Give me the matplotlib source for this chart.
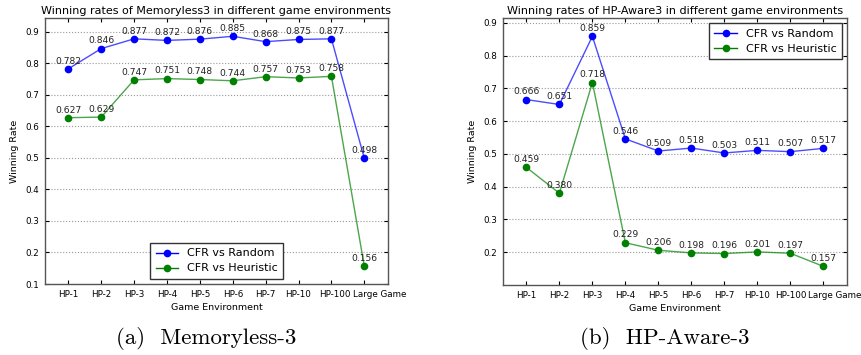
import numpy as np
import matplotlib.pyplot as plt
from matplotlib.transforms import ScaledTranslation

envs = ["HP-1", "HP-2", "HP-3", "HP-4", "HP-5", "HP-6", "HP-7", "HP-10", "HP-100", "Large Game"]

mem_random = [0.782, 0.846, 0.877, 0.872, 0.876, 0.885, 0.868, 0.875, 0.877, 0.498]
mem_heuristic = [0.627, 0.629, 0.747, 0.751, 0.748, 0.744, 0.757, 0.753, 0.758, 0.156]

hp_random = [0.666, 0.651, 0.859, 0.546, 0.509, 0.518, 0.503, 0.511, 0.507, 0.517]
hp_heuristic = [0.459, 0.380, 0.718, 0.229, 0.206, 0.198, 0.196, 0.201, 0.197, 0.157]

plt.rcParams['font.family'] = 'DejaVu Sans'
plt.rcParams['xtick.direction'] = 'in'
plt.rcParams['ytick.direction'] = 'in'

fig = plt.figure(figsize=(8.62, 3.55), dpi=100)
ax1 = fig.add_axes([45 / 862, 1 - 284 / 355, 343 / 862, 266 / 355])
ax2 = fig.add_axes([503 / 862, 1 - 285 / 355, 344 / 862, 267 / 355])

x = np.arange(len(envs))


def draw(ax, rand, heur, title, ylim, yticks, legend_loc, legend_anchor, label_shift):
    ax.plot(x, rand, '-', color='b', lw=1, alpha=0.7, zorder=2)
    ax.plot(x, heur, '-', color='g', lw=1, alpha=0.7, zorder=2)
    ax.plot(x, rand, 'o', color='b', ms=4.5, mec='b', zorder=3)
    ax.plot(x, heur, 'o', color='g', ms=4.5, mec='g', zorder=3)
    # legend proxies
    ax.plot([], [], '-o', color='b', ms=4.5, lw=1, label="CFR vs Random")
    ax.plot([], [], '-o', color='g', ms=4.5, lw=1, label="CFR vs Heuristic")
    for xi, v in zip(x, rand):
        ax.text(xi, v + 0.01, "%.3f" % v, ha='center', va='bottom', fontsize=6.6, color='#222222')
    for xi, v in zip(x, heur):
        ax.text(xi, v + 0.01, "%.3f" % v, ha='center', va='bottom', fontsize=6.6, color='#222222')
    ax.set_xlim(-0.71, 9.72)
    ax.set_ylim(*ylim)
    ax.set_yticks(yticks)
    ax.set_yticklabels(["%.1f" % t for t in yticks])
    ax.set_xticks(x)
    ax.set_xticklabels(envs)
    ax.tick_params(labelsize=6.3, length=3, top=True, right=True, pad=4)
    # last labels sit a bit to the right so they don't collide
    for lab, dx in zip(ax.get_xticklabels(), label_shift):
        if dx:
            lab.set_transform(lab.get_transform() + ScaledTranslation(dx / 100, 0, fig.dpi_scale_trans))
    ax.yaxis.grid(True, linestyle=':', color='#999999', lw=0.8)
    ax.set_axisbelow(True)
    for s in ax.spines.values():
        s.set_color('#555555')
        s.set_linewidth(1)
    ax.set_title(title, fontsize=8, pad=3)
    ax.set_xlabel("Game Environment", fontsize=6.8, labelpad=3)
    ax.set_ylabel("Winning Rate", fontsize=6.8, labelpad=5)
    leg = ax.legend(loc=legend_loc, bbox_to_anchor=legend_anchor, fontsize=8,
                    fancybox=False, framealpha=1, edgecolor='#333333',
                    handlelength=2, borderpad=0.5, labelspacing=0.45,
                    borderaxespad=0)
    leg.get_frame().set_linewidth(1)


draw(ax1, mem_random, mem_heuristic,
     "Winning rates of Memoryless3 in different game environments",
     (0.1, 0.943), np.arange(0.1, 0.95, 0.1), 'lower left', (0.306, 0.019),
     [0, 0, 0, 0, 0, 0, 0, 0, 3, 15])
draw(ax2, hp_random, hp_heuristic,
     "Winning rates of HP-Aware3 in different game environments",
     (0.1, 0.915), np.arange(0.2, 0.95, 0.1), 'upper right', (0.985, 0.981),
     [0, 0, 0, 0, 0, 0, 0, 0, 1, 11])

fig.text(206 / 862, 1 - 338 / 355, "(a)  Memoryless-3", ha='center', va='center',
         fontsize=16.5, family='cmr10')
fig.text(665 / 862, 1 - 338 / 355, "(b)  HP-Aware-3", ha='center', va='center',
         fontsize=16.5, family='cmr10')

fig.savefig("out.png", dpi=100, facecolor='white')
